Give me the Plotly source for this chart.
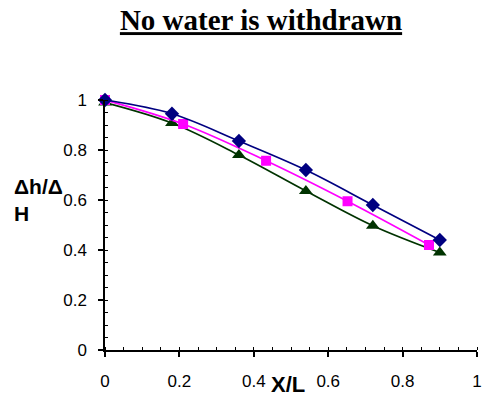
import plotly.graph_objects as go

x_blue = [0, 0.18, 0.36, 0.54, 0.72, 0.90]
y_blue = [1.0, 0.945, 0.836, 0.72, 0.58, 0.44]
x_pink = [0, 0.21, 0.433, 0.652, 0.871]
y_pink = [1.0, 0.904, 0.757, 0.595, 0.42]
x_green = [0, 0.18, 0.36, 0.54, 0.72, 0.90]
y_green = [0.99, 0.908, 0.78, 0.636, 0.497, 0.39]
ticks = [0, 0.2, 0.4, 0.6, 0.8, 1]
tick_text = ["0", "0.2", "0.4", "0.6", "0.8", "1"]

fig = go.Figure()
fig.add_trace(go.Scatter(x=x_green, y=y_green, mode="lines+markers",
                         line=dict(color="#003300", width=1.7, shape="spline"),
                         marker=dict(symbol="triangle-up", size=12, color="#003300"),
                         cliponaxis=False))
fig.add_trace(go.Scatter(x=x_pink, y=y_pink, mode="lines+markers",
                         line=dict(color="#ff00ff", width=1.7, shape="spline"),
                         marker=dict(symbol="square", size=10, color="#ff00ff"),
                         cliponaxis=False))
fig.add_trace(go.Scatter(x=x_blue, y=y_blue, mode="lines+markers",
                         line=dict(color="#000080", width=1.7, shape="spline"),
                         marker=dict(symbol="diamond", size=11, color="#000080"),
                         cliponaxis=False))

axis_common = dict(showgrid=False, zeroline=False, showline=True, linecolor="black",
                   linewidth=1.5, ticks="outside", ticklen=5, tickwidth=1.5, tickcolor="black",
                   tickfont=dict(family="Liberation Sans, Arial", size=17, color="black"),
                   ticklabeloverflow="allow")
fig.update_xaxes(range=[0, 1], tickvals=ticks, ticktext=tick_text,
                 minor=dict(dtick=0.05, ticks="inside", ticklen=3, tickcolor="black", tickwidth=1),
                 ticklabelstandoff=10, **axis_common)
fig.update_yaxes(range=[0, 1], tickvals=ticks, ticktext=tick_text,
                 minor=dict(dtick=0.05, ticks="inside", ticklen=3, tickcolor="black", tickwidth=1),
                 ticklabelstandoff=8, **axis_common)

fig.update_layout(
    width=486, height=401, showlegend=False,
    plot_bgcolor="white", paper_bgcolor="white",
    margin=dict(l=105, r=4, t=100, b=51),
    title=dict(text="<u>No water is withdrawn</u>", x=261/486, xanchor="center",
               y=1 - 20/401, yanchor="middle",
               font=dict(family="Liberation Serif, Times New Roman", size=29, color="black", weight="bold")),
    annotations=[
        dict(text="<b>X/L</b>", xref="paper", yref="paper", x=(290-105)/377, y=-34/250,
             xanchor="center", yanchor="middle", showarrow=False,
             font=dict(family="Liberation Sans, Arial", size=22, color="black")),
        dict(text="<b>Δh/Δ<br>H</b>", xref="paper", yref="paper", x=-94/377, y=(350-200)/250,
             xanchor="left", yanchor="middle", align="left", showarrow=False,
             font=dict(family="Liberation Sans, Arial", size=21, color="black")),
    ],
)
fig.write_html("out.html")
